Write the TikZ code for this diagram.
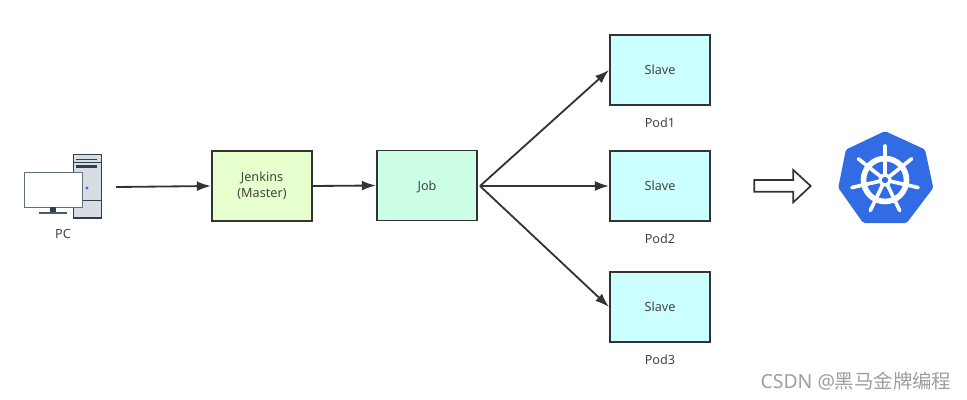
\documentclass[tikz,border=0pt]{standalone}
\usepackage{fontspec}
\setmainfont{Noto Sans}
\newfontfamily\cjkfont{Noto Sans CJK SC}
\usetikzlibrary{arrows.meta,positioning}
\definecolor{linecol}{HTML}{333333}
\definecolor{textcol}{HTML}{444444}
\definecolor{jenkinscol}{HTML}{E6FFCC}
\definecolor{jobcol}{HTML}{CCFFE6}
\definecolor{slavecol}{HTML}{CCFFFF}
\definecolor{kubecol}{HTML}{326CE5}
\definecolor{pcdark}{HTML}{2C4050}
\definecolor{pcgrey}{HTML}{D8DDE3}
\tikzset{
  box/.style={draw=linecol,line width=1.4pt,minimum width=2.5cm,minimum height=1.75cm,
    align=center,font=\fontsize{9}{11.5}\selectfont,text=textcol},
  oneline/.style={text height=0.75em,text depth=0.1em},
  caption/.style={font=\fontsize{9}{11.5}\selectfont,text=textcol,inner sep=0pt},
  flow/.style={draw=linecol,line width=1.3pt,-{Latex[length=10pt,width=7pt]}},
}

\begin{document}
\begin{tikzpicture}[x=0.025cm,y=-0.025cm]
  \useasboundingbox (0,0) rectangle (967,400);
  % PC tower
  \fill[pcgrey] (73,154) rectangle (101,218);
  \draw[pcdark,line width=0.7pt] (73,154) rectangle (101,218);
  \draw[pcdark,line width=1.4pt] (73,217.5) -- (101,217.5);
  \draw[pcdark,line width=0.5pt] (73,162.7) -- (101,162.7) (73,200.7) -- (101,200.7);
  \draw[pcdark,line width=0.7pt] (76,159) -- (97,159);
  \draw[pcdark,line width=2pt] (76,166.7) -- (97,166.7);
  \fill[kubecol] (87,188) circle (1.6);
  % PC screen
  \draw[pcdark!75,fill=white,line width=0.7pt] (24,172) rectangle (82,207);
  \fill[pcdark] (50,207.5) rectangle (56,212);
  \draw[pcdark!85,line width=0.9pt] (39,213) -- (67,213);
  \node[caption] (pc) at (63,234) {PC};
  \coordinate (pcout) at (116,187);
  % boxes
  \node[box,fill=jenkinscol] (jenkins) at (262,186) {Jenkins\\(Master)};
  \node[box,fill=jobcol,oneline] (job) at (427,185.5) {Job};
  \coordinate (jobout) at (480,186);
  \foreach \i/\y in {1/70,2/186,3/307}{
    \node[box,fill=slavecol,oneline] (slave\i) at (660,\y) {Slave};
    \node[caption,below=0.3cm of slave\i] (pod\i) {Pod\i};
    \draw[flow] (jobout) -- (slave\i.west);
  }
  \draw[flow] (pcout) -- (jenkins.west);
  \draw[flow] (jenkins.east) -- (job.west);
  % hollow arrow
  \draw[linecol,fill=white,line width=1.2pt,line join=miter] (754.3,180) -- (793.3,180) -- (793.3,170)
    -- (810.7,186) -- (793.3,202.3) -- (793.3,191.7) -- (754.3,191.7) -- cycle;
  % kubernetes logo
  \draw[kubecol,fill=kubecol,line width=5pt,line join=round] (885,135) -- (922,152) -- (929.5,187)
    -- (905,219.5) -- (865,219.5) -- (842,187) -- (849,152) -- cycle;
  \draw[white,line width=4pt] (885,180) circle (21.5);
  \foreach \k in {0,...,6}{
    \draw[white,line width=2.6pt,line cap=round] (885,180) -- ++({90+\k*360/7}:-34);
  }
  \fill[white] (885,180) circle (6.5);
  \fill[kubecol] (885,180) circle (3.2);
  % watermark
  \node[text=black!38,inner sep=0pt,font=\fontsize{13.8}{16}\selectfont] (mark) at (856,381) {CSDN @{\cjkfont 黑马金牌编程}};
\end{tikzpicture}
\end{document}
